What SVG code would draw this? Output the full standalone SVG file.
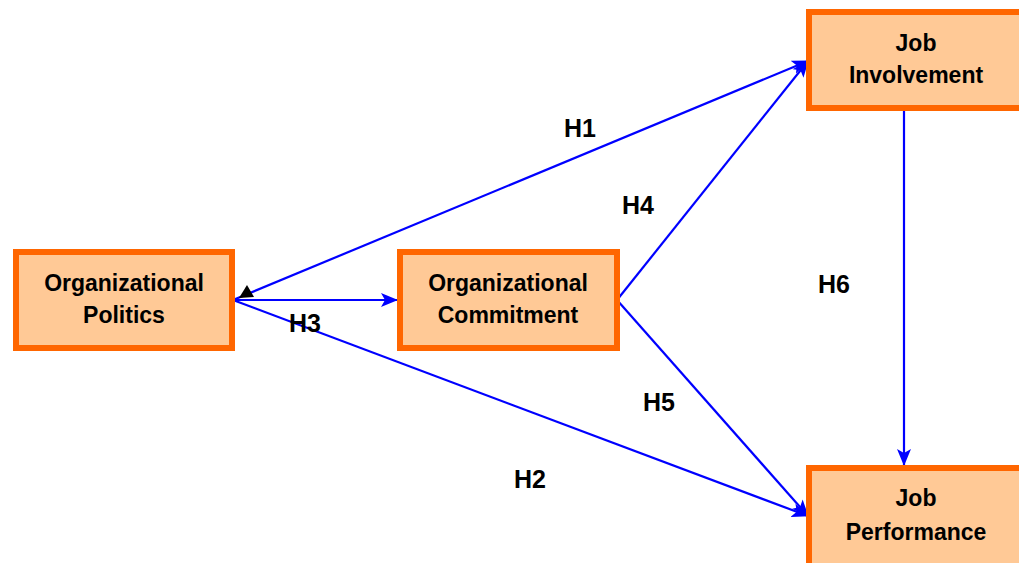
<svg xmlns="http://www.w3.org/2000/svg" width="1019" height="563" viewBox="0 0 1019 563">
<style>
.box{fill:#FFC996;stroke:#FF6600;stroke-width:6}
.nt{font-family:"Liberation Sans",Arial,sans-serif;font-weight:bold;font-size:23px;fill:#000;text-anchor:middle}
.lb{font-family:"Liberation Sans",Arial,sans-serif;font-weight:bold;font-size:25px;fill:#000;text-anchor:middle}
.cn{stroke:#0000FF;stroke-width:2.2;fill:none;marker-end:url(#ah)}
</style>
<defs>
<marker id="ah" markerUnits="userSpaceOnUse" markerWidth="18" markerHeight="14" viewBox="0 0 18 14" refX="16" refY="7" orient="auto">
<path d="M0,0 L17,7 L0,14 L4,7 z" fill="#0000FF"/>
</marker>
</defs>
<rect width="1019" height="563" fill="#fff"/>
<g id="connectors">
<line class="cn" x1="233" y1="300" x2="808" y2="61"/>
<line class="cn" x1="233" y1="300" x2="397" y2="300"/>
<line class="cn" x1="233" y1="300" x2="808" y2="516"/>
<line class="cn" x1="617" y1="300" x2="808" y2="61"/>
<line class="cn" x1="617" y1="300" x2="808" y2="516"/>
<line class="cn" x1="904" y1="110" x2="904" y2="465"/>
<polygon points="247,285 239,298 254,297" fill="#000"/>
</g>
<g id="politics">
<rect class="box" x="16" y="252" width="216" height="96"/>
<text class="nt" x="124" y="291">Organizational</text>
<text class="nt" x="124" y="323">Politics</text>
</g>
<g id="commitment">
<rect class="box" x="400" y="252" width="217" height="96"/>
<text class="nt" x="508" y="291">Organizational</text>
<text class="nt" x="508" y="323">Commitment</text>
</g>
<g id="involvement">
<rect class="box" x="809" y="12" width="220" height="96"/>
<text class="nt" x="916" y="51">Job</text>
<text class="nt" x="916" y="83">Involvement</text>
</g>
<g id="performance">
<rect class="box" x="809" y="468" width="220" height="100"/>
<text class="nt" x="916" y="506">Job</text>
<text class="nt" x="916" y="540">Performance</text>
</g>
<g id="labels">
<text class="lb" x="580" y="137">H1</text>
<text class="lb" x="638" y="214">H4</text>
<text class="lb" x="834" y="293">H6</text>
<text class="lb" x="305" y="332">H3</text>
<text class="lb" x="659" y="411">H5</text>
<text class="lb" x="530" y="488">H2</text>
</g>
</svg>
